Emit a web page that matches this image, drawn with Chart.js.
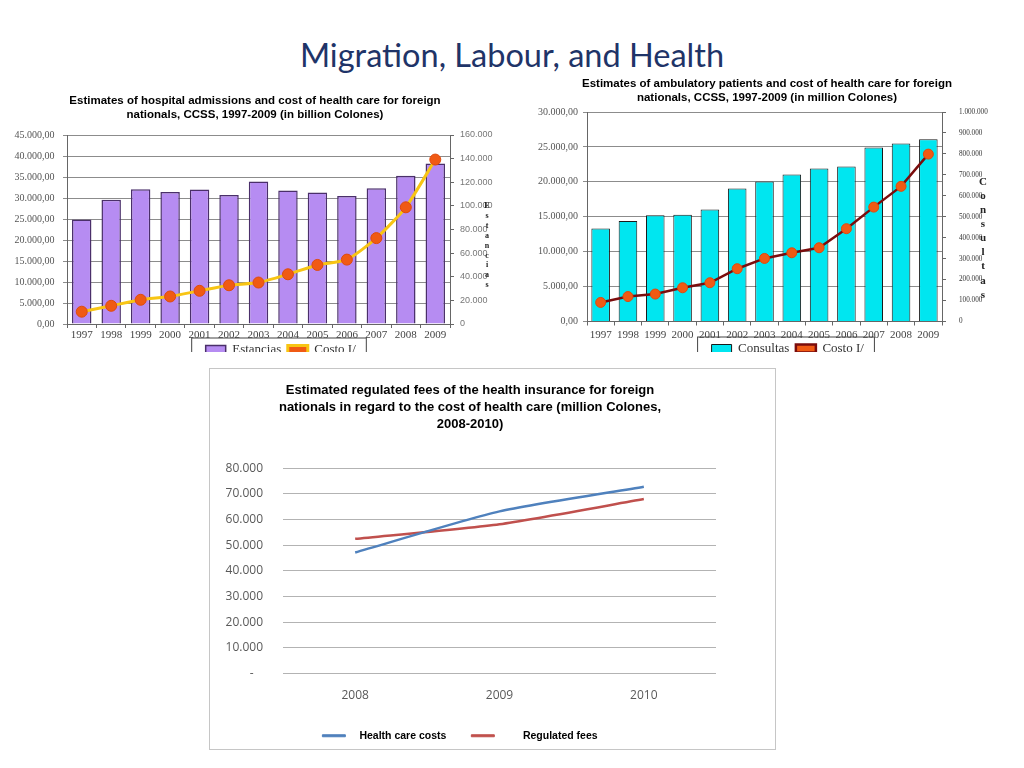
<!DOCTYPE html>
<html>
<head>
<meta charset="utf-8">
<script src="https://cdn.jsdelivr.net/npm/chart.js@4.4.0/dist/chart.umd.min.js"></script>
<style>
  body { margin: 0; width: 1024px; height: 768px; background: #fff; position: relative; overflow: hidden; }
  #slideTitle { position: absolute; left: 0; width: 1024px; top: 35px; text-align: center;
    font-family: Lato, "Open Sans", sans-serif; font-size: 32.5px; color: #1f3468; }
  .clip { position: absolute; overflow: hidden; }
  #box3 { position: absolute; left: 209px; top: 368px; width: 567px; height: 382px;
    border: 1px solid #c6c6c6; box-sizing: border-box; overflow: hidden; }
  canvas { position: absolute; left: 0; top: 0; }
</style>
</head>
<body>
<div id="slideTitle">Migration, Labour, and Health</div>
<div class="clip" style="left:0;top:88px;width:510px;height:264px"><canvas id="c1" width="510" height="278"></canvas></div>
<div class="clip" style="left:510px;top:75px;width:514px;height:277px"><canvas id="c2" width="514" height="290"></canvas></div>
<div id="box3"><canvas id="c3" width="520" height="382"></canvas></div>
<script>
// data
const years = ['1997','1998','1999','2000','2001','2002','2003','2004','2005','2006','2007','2008','2009'];
const estancias = [24900, 29600, 32100, 31400, 32000, 30700, 33900, 31800, 31300, 30500, 32300, 35300, 38200];
const costoHosp = [10400, 15400, 20500, 23300, 28100, 32800, 35100, 42100, 50000, 54500, 72700, 98800, 139200];
const consultas = [13300, 14400, 15200, 15300, 16050, 19050, 20050, 21050, 21900, 22200, 24900, 25500, 26100];
const costoAmb = [91000, 119000, 131000, 161000, 185000, 252000, 301000, 328000, 352000, 443000, 546000, 645000, 799000];
const feeYears = ['2008','2009','2010'];
const healthCosts = [47200, 63200, 72800];
const regulatedFees = [52500, 58200, 68000];

const serif = '"Liberation Serif", "DejaVu Serif", serif';
const sans = '"Liberation Sans", Arial, sans-serif';

function dots(n) {
  return Math.round(n).toString().replace(/\B(?=(\d{3})+(?!\d))/g, '.');
}

// stacked letters next to the right axis
const stackedTitle = {
  id: 'stackedTitle',
  afterDraw(chart, args, o) {
    if (!o.text) return;
    const ctx = chart.ctx, s = chart.scales.y1;
    ctx.save();
    ctx.font = o.font;
    ctx.fillStyle = '#222';
    ctx.textAlign = 'center';
    ctx.textBaseline = 'middle';
    o.text.split('').forEach((c, i) => {
      ctx.fillText(c, s.left + o.dx, chart.chartArea.top + o.dy + i * o.step);
    });
    ctx.restore();
  }
};

const legendShift = {
  id: 'legendShift',
  afterLayout(chart, args, o) {
    if (o.dx) { chart.legend.left += o.dx; chart.legend.right += o.dx; }
  }
};

const legendFrame = {
  id: 'legendFrame',
  afterDraw(chart, args, o) {
    if (!o.show) return;
    const hb = chart.legend.legendHitBoxes;
    if (!hb || !hb.length) return;
    const l = Math.min(...hb.map(h => h.left)) - o.left;
    const r = Math.max(...hb.map(h => h.left + h.width)) + o.right;
    const t = hb[0].top - o.top;
    const ctx = chart.ctx;
    ctx.save();
    ctx.strokeStyle = '#444';
    ctx.lineWidth = 1;
    ctx.strokeRect(l, t, r - l, chart.height);
    ctx.restore();
  }
};

function comboOptions(cfg) {
  return {
    responsive: false,
    animation: false,
    layout: { padding: 0 },
    plugins: {
      title: { display: true, text: cfg.title, color: '#000',
        font: { family: sans, size: 11.5, weight: 'bold', lineHeight: cfg.titleLH },
        padding: cfg.titlePad },
      legend: { position: 'bottom',
        labels: { font: { family: serif, size: 13 }, color: '#333', boxWidth: 20, boxHeight: 8,
          padding: 0, sort: (a, b) => a.datasetIndex - b.datasetIndex,
          generateLabels: chart => Chart.defaults.plugins.legend.labels.generateLabels(chart)
            .map(l => Object.assign(l, { text: l.text + '  ' })) } },
      tooltip: { enabled: false },
      stackedTitle: cfg.stacked,
      legendShift: { dx: cfg.shift },
      legendFrame: { show: true, left: 14, right: 4, top: 5 }
    },
    scales: {
      x: {
        grid: { display: true, drawOnChartArea: false, tickLength: 4, color: '#666' },
        border: { display: true, color: '#666' },
        ticks: { font: { family: serif, size: 11 }, color: '#444', autoSkip: false, maxRotation: 0, padding: cfg.xPad },
        afterFit: s => { s.height = cfg.xH; }
      },
      y: {
        position: 'left', min: 0, max: cfg.yMax,
        ticks: { stepSize: cfg.yStep, font: { family: serif, size: 10 }, color: '#555', padding: cfg.yPad,
          callback: v => dots(v) + ',00' },
        grid: { color: '#8c8c8c', tickLength: 4 },
        border: { display: true, color: '#666' },
        afterFit: s => { s.width = cfg.yW; }
      },
      y1: {
        position: 'right', min: 0, max: cfg.y1Max,
        ticks: { stepSize: cfg.y1Step, font: cfg.y1Font, color: cfg.y1Color, padding: cfg.y1Pad,
          callback: v => dots(v) },
        grid: { drawOnChartArea: false, tickLength: 4, color: '#666' },
        border: { display: true, color: '#666' },
        afterFit: s => { s.width = cfg.y1W; }
      }
    }
  };
}

new Chart(document.getElementById('c1'), {
  type: 'bar',
  data: {
    labels: years,
    datasets: [
      { label: 'Estancias', data: estancias, yAxisID: 'y', order: 1,
        backgroundColor: '#b68cf2', borderColor: '#4a2f6a', borderWidth: 1.5,
        barPercentage: 0.66, categoryPercentage: 1 },
      { type: 'line', label: 'Costo I/', data: costoHosp, yAxisID: 'y1', order: 0,
        borderColor: '#f8c514', borderWidth: 3, tension: 0.2,
        backgroundColor: '#f05a14', pointBackgroundColor: '#f05a14', pointBorderColor: '#e04a0c',
        pointRadius: 5.5, pointBorderWidth: 1 }
    ]
  },
  options: comboOptions({
    title: ['Estimates of hospital admissions and cost of health care for foreign',
            'nationals, CCSS, 1997-2009 (in billion Colones)'],
    titleLH: 1.15, titlePad: { top: 6.5, bottom: 14.05 },
    shift: 29,
    xPad: 1, xH: 19,
    yMax: 45000, yStep: 5000, yPad: 8.5, yW: 67,
    y1Max: 160000, y1Step: 20000, y1Pad: 6, y1W: 60,
    y1Font: { family: sans, size: 9 }, y1Color: '#777',
    stacked: { text: 'Estancias', dx: 37, dy: 71, step: 9.9, font: 'bold 8px ' + serif }
  }),
  plugins: [stackedTitle, legendShift, legendFrame]
});

new Chart(document.getElementById('c2'), {
  type: 'bar',
  data: {
    labels: years,
    datasets: [
      { label: 'Consultas', data: consultas, yAxisID: 'y', order: 1,
        backgroundColor: '#00e6f0', borderColor: '#1a1a1a', borderWidth: 1,
        barPercentage: 0.68, categoryPercentage: 1 },
      { type: 'line', label: 'Costo I/', data: costoAmb, yAxisID: 'y1', order: 0,
        borderColor: '#7b0c0c', borderWidth: 2.5, tension: 0,
        backgroundColor: '#f05a14', pointBackgroundColor: '#f05a14', pointBorderColor: '#e04a0c',
        pointRadius: 5, pointBorderWidth: 1 }
    ]
  },
  options: comboOptions({
    title: ['Estimates of ambulatory patients and cost of health care for foreign',
            'nationals, CCSS, 1997-2009 (in million Colones)'],
    titleLH: 1.2, titlePad: { top: 2.3, bottom: 7.1 },
    shift: 24,
    xPad: 3.4, xH: 20.5,
    yMax: 30000, yStep: 5000, yPad: 5, yW: 77,
    y1Max: 1000000, y1Step: 100000, y1Pad: 13, y1W: 82,
    y1Font: { family: serif, size: 7.2 }, y1Color: '#333',
    stacked: { text: 'Consultas', dx: 41, dy: 70, step: 14.1, font: 'bold 11px ' + serif }
  }),
  plugins: [stackedTitle, legendShift, legendFrame]
});

const legendPrefix = ['   ', '        '];
new Chart(document.getElementById('c3'), {
  type: 'line',
  data: {
    labels: feeYears,
    datasets: [
      { label: 'Health care costs', data: healthCosts, borderColor: '#4f81bd', backgroundColor: '#4f81bd',
        borderWidth: 2.5, pointRadius: 0, tension: 0.2 },
      { label: 'Regulated fees', data: regulatedFees, borderColor: '#c0504d', backgroundColor: '#c0504d',
        borderWidth: 2.5, pointRadius: 0, tension: 0.2 }
    ]
  },
  options: {
    responsive: false,
    animation: false,
    layout: { padding: 0 },
    plugins: {
      title: { display: true, color: '#000',
        text: ['Estimated regulated fees of the health insurance for foreign',
               'nationals in regard to the cost of health care (million Colones,',
               '2008-2010)'],
        font: { family: sans, size: 13, weight: 'bold', lineHeight: 1.3 },
        padding: { top: 13.3, bottom: 35.3 } },
      legend: { position: 'bottom',
        labels: { font: { family: sans, size: 10.5, weight: 'bold' }, color: '#000',
          boxWidth: 23, boxHeight: 2, padding: 25,
          generateLabels: chart => chart.data.datasets.map((ds, i) => ({
            text: legendPrefix[i] + ds.label, fillStyle: ds.borderColor, strokeStyle: ds.borderColor,
            lineWidth: 1, hidden: false, datasetIndex: i, fontColor: '#000' })) } },
      tooltip: { enabled: false },
      legendShift: { dx: -10 }
    },
    scales: {
      x: {
        offset: true,
        grid: { display: false, drawTicks: false },
        border: { display: false },
        ticks: { font: { family: '"Open Sans", sans-serif', size: 12 }, color: '#595959', padding: 14.8 },
        afterFit: s => { s.height = 32; }
      },
      y: {
        min: 0, max: 80000,
        grid: { color: '#b3b3b3', drawTicks: false },
        border: { display: false },
        ticks: { stepSize: 10000, font: { family: '"Open Sans", sans-serif', size: 12 }, color: '#595959', padding: 20,
          callback: v => v === 0 ? '-   ' : dots(v) },
        afterFit: s => { s.width = 73; }
      },
      // empty right-hand strip so the plot ends where the original one does
      yPad: {
        position: 'right', display: true,
        grid: { display: false, drawTicks: false },
        border: { display: false },
        ticks: { display: false },
        afterFit: s => { s.width = 14; }
      }
    }
  },
  plugins: [legendShift]
});
</script>
</body>
</html>
